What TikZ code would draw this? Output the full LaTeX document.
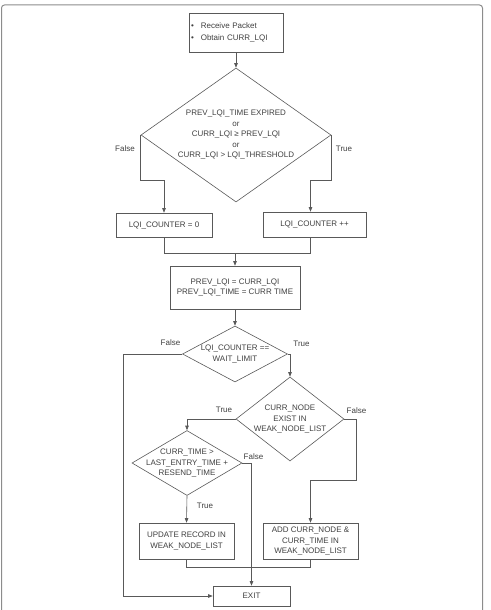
\documentclass[tikz,border=0pt]{standalone}
\usepackage{fontspec}
\setmainfont{Liberation Sans}
\usetikzlibrary{arrows.meta, positioning, shapes.geometric, calc}

\begin{document}
\begin{tikzpicture}[x=1pt, y=-1pt, >={Triangle[length=4.5pt, width=3.5pt]}]

        % --- Styles ---
        \tikzset{
            flowText/.style={font=\fontsize{8}{10.5}\selectfont, text=black!75},
            flowBox/.style={rectangle, draw=black!65, line width=0.6pt, fill=white, align=center, inner sep=1pt, flowText},
            flowDiamond/.style={diamond, draw=black!65, line width=0.6pt, inner sep=0pt, aspect=1},
            diamondText/.style={align=center, inner sep=0pt, flowText},
            branchLabel/.style={inner sep=0pt, flowText},
            flowLine/.style={draw=black!65, line width=0.6pt},
            outerFrame/.style={draw=black!45, line width=1pt, rounded corners=3pt}
        }

        % --- Page and frame ---
        \useasboundingbox (0,0) rectangle (490,610);
        \draw[outerFrame] (1.5,5) rectangle (482.5,620);

        % 1. Boxes
        \node[flowBox, minimum width=94, minimum height=39, text width=90, align=left,
              font=\fontsize{8}{12}\selectfont] (start) at (236,32.5)
              {\textbullet\hspace{7pt}Receive Packet\\\textbullet\hspace{7pt}Obtain CURR\_LQI};
        \node[flowBox, minimum width=96, minimum height=24] (cntZero) at (164,225) {LQI\_COUNTER = 0};
        \node[flowBox, minimum width=103, minimum height=25] (cntInc) at (314.5,224.5) {LQI\_COUNTER ++};
        \node[flowBox, minimum width=130, minimum height=43] (prevSet) at (235,287.5)
              {PREV\_LQI = CURR\_LQI\\PREV\_LQI\_TIME = CURR TIME};
        \node[flowBox, minimum width=95, minimum height=36] (updRec) at (186.5,541)
              {UPDATE RECORD IN\\WEAK\_NODE\_LIST};
        \node[flowBox, minimum width=95, minimum height=36] (addNode) at (310.5,541)
              {ADD CURR\_NODE \&\\CURR\_TIME IN\\WEAK\_NODE\_LIST};
        \node[flowBox, minimum width=77, minimum height=20] (exit) at (251.5,596) {EXIT};

        % 2. Decisions
        \node[flowDiamond, minimum width=190, minimum height=134] (decLqi) at (236,135) {};
        \node[diamondText] (decLqiText) at (decLqi)
              {PREV\_LQI\_TIME EXPIRED\\or\\CURR\_LQI ≥ PREV\_LQI\\or\\CURR\_LQI > LQI\_THRESHOLD};
        \node[flowDiamond, minimum width=105, minimum height=56] (decWait) at (235,354) {};
        \node[diamondText] (decWaitText) at (decWait) {LQI\_COUNTER ==\\WAIT\_LIMIT};
        \node[flowDiamond, minimum width=108, minimum height=84] (decExist) at (290,419) {};
        \node[diamondText] (decExistText) at (decExist) {CURR\_NODE\\EXIST IN\\WEAK\_NODE\_LIST};
        \node[flowDiamond, minimum width=110, minimum height=65] (decTime) at (187,463) {};
        \node[diamondText] (decTimeText) at (decTime) {CURR\_TIME >\\LAST\_ENTRY\_TIME +\\RESEND\_TIME};

        % 3. Merge points
        \coordinate (mergeCnt) at (235,253);

        % 4. Connectors
        \draw[flowLine, ->] (start) -- (decLqi.north);
        \draw[flowLine, ->] (decLqi.west) -- ++(0,45) -| (cntZero.north);
        \draw[flowLine, ->] (decLqi.east) -- ++(0,45) -| ($(cntInc.north)+(-4,0)$);
        \draw[flowLine] (cntZero.south) |- (mergeCnt);
        \draw[flowLine] ($(cntInc.south)+(-4,0)$) |- (mergeCnt);
        \draw[flowLine, ->] (mergeCnt) -- (prevSet.north);
        \draw[flowLine, ->] (prevSet) -- (decWait.north);
        \draw[flowLine, ->] (decWait.west) -- ++(-59,0) |- (exit.west);
        \draw[flowLine, ->] (decWait.east) -| (decExist.north);
        \draw[flowLine, ->] (decExist.west) -| (decTime.north);
        \draw[flowLine, ->] (decExist.east) -- ++(12,0) -- ++(0,61) -| (addNode.north);
        \draw[flowLine, ->] (decTime.east) -| (exit.north);
        \draw[flowLine, ->] (decTime.south) -- (updRec.north);
        \draw[flowLine] (updRec.south) -- ++(0,8) -| (addNode.south);

        % 5. Branch labels
        \node[branchLabel] (lqiFalse) at (125,149) {False};
        \node[branchLabel] (lqiTrue) at (344,149) {True};
        \node[branchLabel] (waitFalse) at (170.5,343) {False};
        \node[branchLabel] (waitTrue) at (301.5,344) {True};
        \node[branchLabel] (existTrue) at (224,410) {True};
        \node[branchLabel] (existFalse) at (356.5,411) {False};
        \node[branchLabel] (timeFalse) at (253.5,457) {False};
        \node[branchLabel] (timeTrue) at (205,506) {True};

    \end{tikzpicture}
\end{document}
